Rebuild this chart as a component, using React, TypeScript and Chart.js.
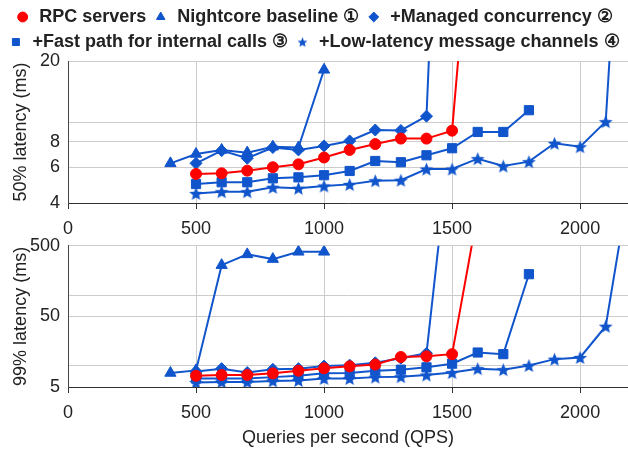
import React, { useEffect, useRef } from 'react';
import { Chart, registerables } from 'chart.js';

Chart.register(...registerables);

const FONT = 'Arial, "Liberation Sans", sans-serif';
const BLUE = '#1155cc';
const RED = '#ff0000';
const TEXT = '#222222';

// Axis ticks
const xTickValues = [0, 500, 1000, 1500, 2000];
const X_MAX = 2187;
const p50TickValues = [4, 6, 8, 10, 20];
const p50TickLabels = [4, 6, 8, 20];
const p99TickValues = [5, 10, 50, 100, 500];
const p99TickLabels = [5, 50, 500];

// Series labels
const rpcLabel = 'RPC servers';
const ncLabel = 'Nightcore baseline ①';
const mcLabel = '+Managed concurrency ②';
const fpLabel = '+Fast path for internal calls ③';
const llLabel = '+Low-latency message channels ④';

// RPC servers
const rpcQps = [500, 600, 700, 800, 900, 1000, 1100, 1200, 1300, 1400, 1500, 1600];
const rpcP50 = [5.56, 5.6, 5.77, 6.0, 6.2, 6.7, 7.3, 7.8, 8.3, 8.3, 9.08, 267];
const rpcP99 = [7.2, 7.4, 7.4, 7.8, 8.5, 9.2, 9.8, 10.4, 13.3, 13.6, 14.6, 1465];

// Nightcore baseline
const ncQps = [400, 500, 600, 700, 800, 900, 1000];
const ncP50 = [6.27, 6.97, 7.3, 7.08, 7.57, 7.5, 18.1];
const ncP99 = [7.9, 8.6, 266, 378, 324, 411, 411];

// + Managed concurrency
const mcQps = [500, 600, 700, 800, 900, 1000, 1100, 1200, 1300, 1400, 1500];
const mcP50 = [6.27, 7.24, 6.64, 7.5, 7.3, 7.64, 8.08, 9.15, 9.1, 10.7, 10000];
const mcP99 = [8.3, 9.1, 8.0, 8.9, 9.1, 9.9, 10.2, 11.0, 12.8, 15.0, 27000];

// + Fast path for internal calls
const fpQps = [500, 600, 700, 800, 900, 1000, 1100, 1200, 1300, 1400, 1500, 1600, 1700, 1800];
const fpP50 = [4.96, 5.06, 5.06, 5.29, 5.35, 5.48, 5.75, 6.44, 6.35, 6.87, 7.44, 8.95, 8.95, 11.45];
const fpP99 = [6.6, 6.6, 6.6, 6.9, 7.2, 7.8, 7.9, 8.5, 8.8, 9.5, 10.7, 15.4, 14.6, 198];

// + Low-latency message channels
const llQps = [500, 600, 700, 800, 900, 1000, 1100, 1200, 1300, 1400, 1500, 1600, 1700, 1800, 1900, 2000, 2100, 2200];
const llP50 = [4.46, 4.55, 4.55, 4.78, 4.73, 4.85, 4.94, 5.15, 5.18, 5.88, 5.88, 6.61, 6.08, 6.39, 7.87, 7.57, 10.06, 1170];
const llP99 = [5.8, 5.9, 5.9, 6.1, 6.2, 6.6, 6.6, 6.9, 7.0, 7.4, 8.0, 9.1, 8.8, 10.1, 12.4, 13.1, 36.3, 5550];

type Series = { label: string; qps: number[]; p50: number[]; p99: number[]; color: string; style: string; radius: number };

const SERIES: Series[] = [
  { label: rpcLabel, qps: rpcQps, p50: rpcP50, p99: rpcP99, color: RED, style: 'circle', radius: 5.5 },
  { label: ncLabel, qps: ncQps, p50: ncP50, p99: ncP99, color: BLUE, style: 'triangle', radius: 6.5 },
  { label: mcLabel, qps: mcQps, p50: mcP50, p99: mcP99, color: BLUE, style: 'rectRot', radius: 6 },
  { label: fpLabel, qps: fpQps, p50: fpP50, p99: fpP99, color: BLUE, style: 'rect', radius: 6.5 },
  { label: llLabel, qps: llQps, p50: llP50, p99: llP99, color: BLUE, style: 'star', radius: 7 },
];

function makeStar(size: number, color: string): HTMLCanvasElement {
  const c = document.createElement('canvas');
  c.width = size;
  c.height = size;
  const ctx = c.getContext('2d')!;
  const cx = size / 2;
  const cy = size / 2 + size * 0.05;
  const R = size / 2 - 0.3;
  const r = R * 0.45;
  ctx.beginPath();
  for (let i = 0; i < 10; i++) {
    const a = -Math.PI / 2 + (i * Math.PI) / 5;
    const rad = i % 2 === 0 ? R : r;
    const px = cx + rad * Math.cos(a);
    const py = cy + rad * Math.sin(a);
    if (i === 0) ctx.moveTo(px, py);
    else ctx.lineTo(px, py);
  }
  ctx.closePath();
  ctx.fillStyle = color;
  ctx.fill();
  return c;
}

function buildDatasets(which: 'p50' | 'p99', star: HTMLCanvasElement) {
  return SERIES.map((s) => ({
    label: s.label,
    data: s.qps.map((x, i) => ({ x, y: which === 'p50' ? s.p50[i] : s.p99[i] })),
    borderColor: s.color,
    backgroundColor: s.color,
    borderWidth: 2,
    pointStyle: s.style === 'star' ? star : s.style,
    pointRadius: s.radius,
    pointBorderWidth: 1,
    pointBackgroundColor: s.color,
    pointBorderColor: s.color,
    tension: 0,
  }));
}

function xScale(height: number, withTitle: boolean) {
  return {
    type: 'linear',
    min: 0,
    max: X_MAX,
    afterBuildTicks: (s: any) => {
      s.ticks = xTickValues.map((v) => ({ value: v }));
    },
    afterFit: (s: any) => {
      s.height = height;
    },
    grid: { color: '#cccccc', lineWidth: 1, drawTicks: true, tickLength: 6, tickColor: '#333333' },
    border: { display: true, color: '#333333', width: 1 },
    ticks: {
      autoSkip: false,
      maxRotation: 0,
      padding: 9,
      color: TEXT,
      font: { family: FONT, size: 18 },
      callback: (v: any) => String(v),
    },
    title: {
      display: withTitle,
      text: 'Queries per second (QPS)',
      color: TEXT,
      font: { family: FONT, size: 18 },
      padding: { top: 0, bottom: 2 },
    },
  };
}

function yScale(min: number, max: number, values: number[], labels: number[], title: string) {
  return {
    type: 'logarithmic',
    min,
    max,
    afterBuildTicks: (s: any) => {
      s.ticks = values.map((v) => ({ value: v }));
    },
    afterFit: (s: any) => {
      s.width = 68;
    },
    grid: { color: '#cccccc', lineWidth: 1, drawTicks: false },
    border: { display: true, color: '#444444', width: 1 },
    ticks: {
      autoSkip: false,
      padding: 8,
      color: TEXT,
      font: { family: FONT, size: 18 },
      callback: (v: any) => (labels.includes(Number(v)) ? String(v) : ''),
    },
    title: {
      display: true,
      text: title,
      color: TEXT,
      font: { family: FONT, size: 18 },
      padding: { top: 10, bottom: 0 },
    },
  };
}

export default function App() {
  const topRef = useRef<HTMLCanvasElement>(null);
  const botRef = useRef<HTMLCanvasElement>(null);

  useEffect(() => {
    const star = makeStar(15, BLUE);
    const starSmall = makeStar(11, BLUE);

    const top = new Chart(topRef.current!, {
      type: 'line',
      data: { datasets: buildDatasets('p50', star) as any },
      options: {
        animation: false,
        responsive: false,
        maintainAspectRatio: false,
        layout: { autoPadding: false, padding: { top: 1, left: 0, right: 0, bottom: 0 } },
        plugins: {
          tooltip: { enabled: false },
          legend: {
            display: true,
            position: 'top',
            labels: {
              usePointStyle: true,
              boxWidth: 15,
              boxHeight: 7,
              padding: 7,
              color: TEXT,
              font: { family: FONT, size: 18, weight: 'bold' },
              generateLabels: (chart: any) => {
                const items = (Chart.defaults.plugins.legend.labels as any).generateLabels(chart);
                return items.map((it: any, i: number) => ({
                  ...it,
                  pointStyle: SERIES[i].style === 'star' ? starSmall : it.pointStyle,
                  lineWidth: 1,
                }));
              },
            },
          },
        },
        scales: {
          x: xScale(33, false) as any,
          y: yScale(4, 20, p50TickValues, p50TickLabels, '50% latency (ms)') as any,
        },
      },
    });

    const bot = new Chart(botRef.current!, {
      type: 'line',
      data: { datasets: buildDatasets('p99', star) as any },
      options: {
        animation: false,
        responsive: false,
        maintainAspectRatio: false,
        layout: { autoPadding: false, padding: { top: 0, left: 0, right: 0, bottom: 0 } },
        plugins: {
          tooltip: { enabled: false },
          legend: { display: false },
        },
        scales: {
          x: xScale(64, true) as any,
          y: yScale(5, 500, p99TickValues, p99TickLabels, '99% latency (ms)') as any,
        },
      },
    });

    return () => {
      top.destroy();
      bot.destroy();
    };
  }, []);

  return (
    <div style={{ position: 'absolute', left: 0, top: 0, width: 628, height: 451, background: '#ffffff', overflow: 'hidden' }}>
      <canvas ref={topRef} width={628} height={236} style={{ position: 'absolute', left: 0, top: 0 }} />
      <canvas ref={botRef} width={628} height={224} style={{ position: 'absolute', left: 0, top: 227 }} />
    </div>
  );
}
